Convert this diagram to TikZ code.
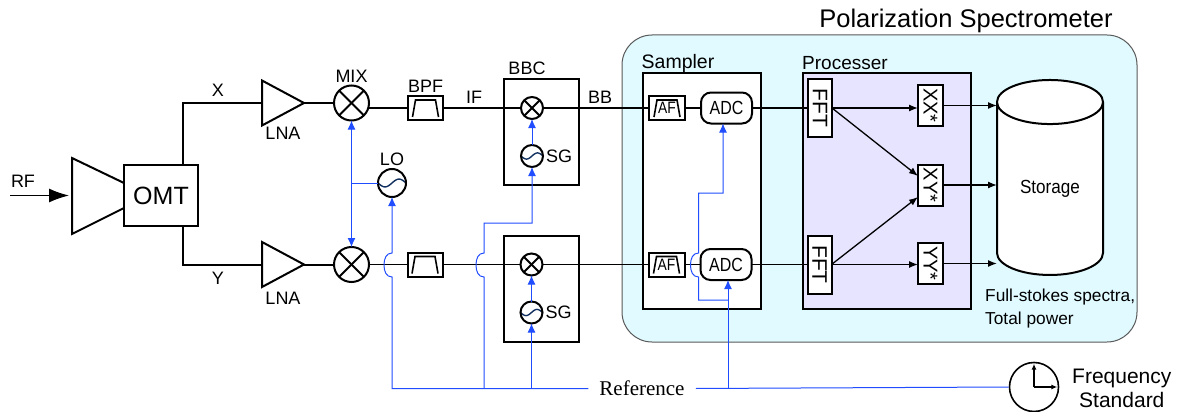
\documentclass[tikz,border=0pt]{standalone}
\usepackage{graphicx}
\usepackage{fontspec}
\setmainfont{Liberation Sans}
\newfontfamily\refserif{Liberation Serif}
\usetikzlibrary{positioning,arrows.meta,shapes.geometric}
\definecolor{specbg}{HTML}{E0FAFF}
\definecolor{procbg}{HTML}{E6E4FF}
\definecolor{refblue}{HTML}{1F4DFF}
\definecolor{wavenavy}{HTML}{12305F}
\newcommand{\SideText}[1]{\rotatebox{-90}{#1}}
\newcommand{\NarrowText}[1]{\scalebox{.84}[1]{#1}}
\newcommand{\FontAt}[1]{\fontsize{#1}{#1}\selectfont}
\tikzset{
	lab/.style={font=\FontAt{18}, inner sep=0pt},
	bluntbox/.style={draw, line width=2pt, inner sep=0pt, outer sep=0pt},
	amptri/.style={isosceles triangle, isosceles triangle stretches, bluntbox, minimum width=45pt, minimum height=42pt, shape border rotate=0},
	mixer/.style={circle, bluntbox, minimum size=2*#1, path picture={
		\draw[line width=2pt] (path picture bounding box.north west) -- (path picture bounding box.south east);
		\draw[line width=2pt] (path picture bounding box.south west) -- (path picture bounding box.north east);}},
	osc/.style={circle, bluntbox, minimum size=2*#1, path picture={
		\draw[wavenavy, line width=1.4pt, shift={(path picture bounding box.center)}]
			plot[smooth, samples=25, domain=-#1:#1] (\x, {.28*#1*sin(180*\x/#1)});}},
	filterbox/.style={bluntbox, minimum width=#1, minimum height=24pt, path picture={
		\draw[line width=1.6pt] (path picture bounding box.center) ++(-13,9) -- ++(3,-17) -- ++(20,0) -- ++(3,17);}},
	adcbox/.style={bluntbox, fill=white, rounded corners=10pt, minimum width=51pt, minimum height=31pt, font=\FontAt{19}},
	fftbox/.style={bluntbox, fill=white, minimum width=24pt, minimum height=58pt, font=\FontAt{21}},
	conjbox/.style={bluntbox, fill=white, minimum width=25pt, minimum height=41pt, font=\FontAt{20}},
	sig/.style={line width=1.3pt},
	sigthick/.style={line width=2pt},
	sigarrow/.style={sig, -{Latex[length=9pt,width=7pt]}},
	refline/.style={refblue, line width=1pt},
	refarrow/.style={refline, -{Latex[length=9pt,width=8pt]}},
	hopup/.style={insert path={.. controls +(-6,0) and +(0,6) .. ++(-8,-12) .. controls +(0,-6) and +(-6,0) .. ++(8,-12)}},
}

\begin{document}
\begin{tikzpicture}[x=1pt,y=-1pt]
	\useasboundingbox (0,0) rectangle (1189,412);

	% Define the backgrounds
	\node[draw=black!65, line width=1pt, fill=specbg, rounded corners=30pt, minimum width=515pt, minimum height=307pt, inner sep=0pt] (Spec) at (879.5,188.5) {};
	\node[lab, font=\FontAt{25.5}] (SpecLab) at (966,21) {Polarization Spectrometer};
	\node[bluntbox, fill=white, minimum width=118pt, minimum height=236pt] (Sampler) at (702,191) {};
	\node[bluntbox, fill=procbg, minimum width=168pt, minimum height=236pt] (Proc) at (887,191) {};
	\node[lab, font=\FontAt{19.5}] (SamplerLab) at (678,63) {Sampler};
	\node[lab, font=\FontAt{19}] (ProcLab) at (845,63) {Processer};

	% Define the front end
	\coordinate (RFin) at (10,195.5);
	\coordinate (RFtip) at (69,195.5);
	\node[lab] (RFLab) at (23,181) {RF};
	\node[bluntbox, minimum width=74pt, minimum height=61pt, font=\FontAt{25}] (OMT) at (161,195.5) {OMT};
	\coordinate (Xturn) at (183,103);
	\coordinate (Yturn) at (183,264.5);
	\node[amptri, right=79pt of Xturn] (LNAx) {};
	\node[amptri, right=79pt of Yturn] (LNAy) {};
	\node[mixer=17.5pt, right=30pt of LNAx] (MIXx) {};
	\node[mixer=17.5pt, right=30pt of LNAy] (MIXy) {};
	\node[lab] (XLab) at (218,90) {X};
	\node[lab] (YLab) at (218,278) {Y};
	\node[lab] (LNAxLab) at (283,133) {LNA};
	\node[lab] (LNAyLab) at (283,298) {LNA};
	\node[lab, above=3pt of MIXx] (MIXLab) {MIX};
	\node[osc=14pt] (LO) at (392,183) {};
	\node[lab, above=3pt of LO] (LOLab) {LO};

	% Define the IF and BBC part
	\node[filterbox=35pt] (BPFx) at (425.5,108) {};
	\node[filterbox=35pt, right=38.5pt of MIXy] (BPFy) {};
	\node[lab, above=3pt of BPFx] (BPFLab) {BPF};
	\node[lab] (IFLab) at (474,97) {IF};
	\node[mixer=11pt, right=78pt of BPFx] (BBCmixx) {};
	\node[mixer=11pt, right=78pt of BPFy] (BBCmixy) {};
	\node[osc=11pt, below=26pt of BBCmixx] (SGx) {};
	\node[osc=11pt, below=26pt of BBCmixy] (SGy) {};
	\node[lab, right=3pt of SGx] (SGxLab) {SG};
	\node[lab, right=3pt of SGy] (SGyLab) {SG};
	\node[bluntbox, minimum width=75pt, minimum height=106pt] (BBCx) at (541.5,132) {};
	\node[bluntbox, minimum width=75pt, minimum height=106pt] (BBCy) at (541.5,289) {};
	\node[lab] (BBCLab) at (527,68) {BBC};
	\node[lab] (BBLab) at (600,97) {BB};

	% Define the spectrometer part
	\node[filterbox=36pt, fill=white, right=106pt of BBCmixx, font=\FontAt{16.5}] (AFx) {\NarrowText{AF}};
	\node[filterbox=36pt, fill=white, right=106pt of BBCmixy, font=\FontAt{16.5}] (AFy) {\NarrowText{AF}};
	\node[adcbox, right=16pt of AFx] (ADCx) {\NarrowText{ADC}};
	\node[adcbox, right=16pt of AFy] (ADCy) {\NarrowText{ADC}};
	\node[fftbox, right=56pt of ADCx] (FFTx) {\SideText{FFT}};
	\node[fftbox, right=56pt of ADCy] (FFTy) {\SideText{FFT}};
	\node[conjbox] (XX) at (930.5,105.5) {\SideText{XX*}};
	\node[conjbox] (XY) at (930.5,185) {\SideText{XY*}};
	\node[conjbox] (YY) at (930.5,263.5) {\SideText{YY*}};
	\node[cylinder, shape border rotate=90, shape aspect=.736, bluntbox, fill=white, minimum width=106pt, minimum height=195pt, font=\FontAt{19}] (Storage) at (1050,189) {\scalebox{.9}[1]{Storage}};
	\node[lab, align=left, anchor=west, font=\FontAt{17.3}] (StokesLab) at (985,308.5) {Full-stokes spectra,\\[5pt]Total power};

	% Define the reference part
	\node[inner xsep=11pt, inner ysep=2pt, font=\refserif\FontAt{21}] (Ref) at (642,388.5) {Reference};
	\node[circle, draw, line width=1.6pt, minimum size=49pt, inner sep=0pt] (Clock) at (1034,387) {};
	\node[lab, align=center, anchor=west, font=\FontAt{21}] (ClockLab) at (1072,388) {Frequency\\[3pt]Standard};
	\coordinate (HopLO) at (392,277);
	\coordinate (HopSG) at (484,277);
	\coordinate (TurnSG) at (484,223);
	\coordinate (BranchSG) at (484,388.5);
	\coordinate (BranchADC) at (728,388.5);
	\coordinate (TurnADCa) at (728,300);
	\coordinate (TurnADCb) at (698.5,300);
	\coordinate (HopADC) at (698.5,277);
	\coordinate (TurnADCc) at (698.5,193);
	\coordinate (TurnADCd) at (723,193);

	% Connect the front end
	\draw[sig, -{Latex[length=20pt,width=14pt]}] (RFin) -- (RFtip);
	\draw[bluntbox] (OMT.west |- 0,183) -- (72,158) -- (72,234) -- (OMT.west |- 0,208);
	\draw[sigthick] (OMT.north -| Xturn) -- (Xturn) -- (LNAx.west);
	\draw[sigthick] (OMT.south -| Yturn) -- (Yturn) -- (LNAy.west);
	\draw[sigthick] (LNAx.east) -- (MIXx.west);
	\draw[sigthick] (LNAy.east) -- (MIXy.west);

	% Connect the signal chains
	\draw[sig] (MIXx.east |- BPFx.west) -- (BPFx.west);
	\draw[sig] (BPFx.east) -- (BBCmixx.west);
	\draw[sig] (BBCmixx.east) -- (AFx.west);
	\draw[sig] (AFx.east) -- (ADCx.west);
	\draw[sig] (ADCx.east) -- (FFTx.west);
	\draw[sig] (MIXy.east) -- (BPFy.west);
	\draw[sig] (BPFy.east) -- (BBCmixy.west);
	\draw[sig] (BBCmixy.east) -- (AFy.west);
	\draw[sig] (AFy.east) -- (ADCy.west);
	\draw[sig] (ADCy.east) -- (FFTy.west);
	\draw[sigarrow] (FFTx.east) -- (XX.west |- FFTx.east);
	\draw[sigarrow] (FFTx.east) -- ([yshift=9pt]XY.west);
	\draw[sigarrow] (FFTy.east) -- ([yshift=-12pt]XY.west);
	\draw[sigarrow] (FFTy.east) -- (YY.west |- FFTy.east);
	\draw[sigarrow] (XX.east) -- (Storage.west |- XX.east);
	\draw[sigarrow] (XY.east) -- (Storage.west |- XY.east);
	\draw[sigarrow] (YY.east) -- (Storage.west |- YY.east);

	% Connect the reference lines
	\draw[refline, {Latex[length=9pt,width=8pt]}-{Latex[length=9pt,width=8pt]}] (MIXx.south) -- (MIXy.north);
	\draw[refline] (LO.west) -- (LO.west -| MIXx.south);
	\draw[refarrow] (Ref.west) -| (HopLO) [hopup] -- (LO.south);
	\draw[refarrow] (BranchSG) -- (HopSG) [hopup] -- (TurnSG) -| (SGx.south);
	\draw[refarrow] (BranchSG -| SGy.south) -- (SGy.south);
	\draw[refarrow] (SGx.north) -- (BBCmixx.south);
	\draw[refarrow] (SGy.north) -- (BBCmixy.south);
	\draw[refline] (Ref.east) -- (Clock.west);
	\draw[refarrow] (BranchADC) -- (BranchADC |- ADCy.south);
	\draw[refarrow] (TurnADCa) -- (TurnADCb) -- (HopADC) [hopup] -- (TurnADCc) -- (TurnADCd) -- (TurnADCd |- ADCx.south);

	% Clock hands
	\draw[line width=1.2pt, -{Latex[length=6pt,width=5pt]}, shorten >=2pt] (Clock.center) -- (Clock.north);
	\draw[line width=1.2pt, -{Latex[length=6pt,width=5pt]}, shorten >=2pt] (Clock.center) -- (Clock.east);
\end{tikzpicture}
\end{document}
